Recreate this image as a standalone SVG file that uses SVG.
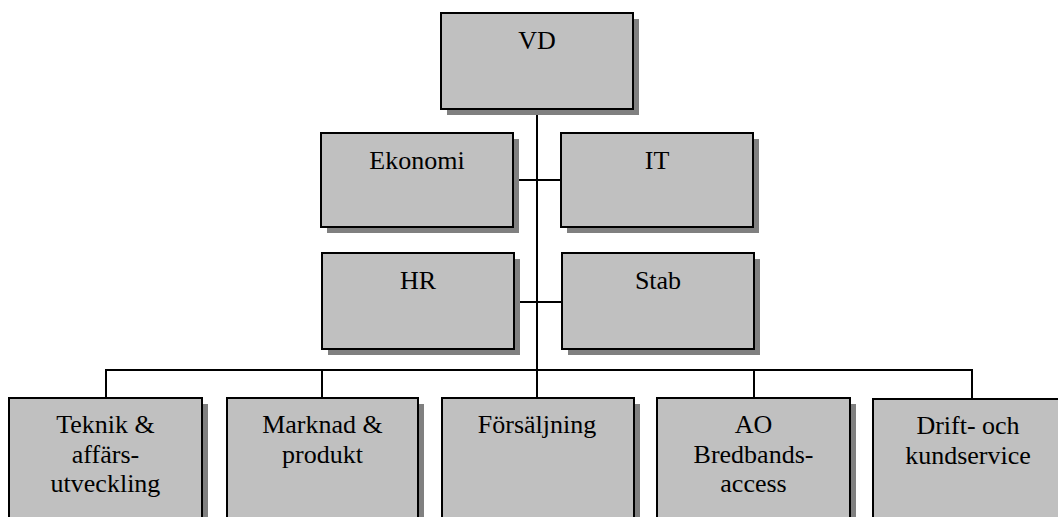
<svg xmlns="http://www.w3.org/2000/svg" width="1058" height="517" viewBox="0 0 1058 517">
  <defs>
    <style>
      .shadow { fill: #808080; }
      .box { fill: #C0C0C0; stroke: #000; stroke-width: 2; }
      .lbl { font-family: 'Liberation Serif', 'Times New Roman', 'DejaVu Serif', serif; font-size: 26px; fill: #000; text-anchor: middle; }
      .conn { stroke: #000; stroke-width: 2; fill: none; }
    </style>
  </defs>
  <rect width="1058" height="517" fill="#fff"/>
  <g id="connectors">
    <line class="conn" x1="537" y1="109" x2="537" y2="370"/>
    <line class="conn" x1="513" y1="180" x2="561" y2="180"/>
    <line class="conn" x1="514" y1="302" x2="562" y2="302"/>
    <polyline class="conn" points="106,398 106,370 972,370 972,399"/>
    <line class="conn" x1="322" y1="370" x2="322" y2="398"/>
    <line class="conn" x1="537" y1="370" x2="537" y2="398"/>
    <line class="conn" x1="754" y1="370" x2="754" y2="398"/>
  </g>
  <g id="vd">
    <rect class="shadow" x="447" y="19" width="192" height="96"/>
    <rect class="box" x="441" y="13" width="192" height="96"/>
    <text class="lbl" x="537" y="49">VD</text>
  </g>
  <g id="ekonomi">
    <rect class="shadow" x="327" y="139" width="192" height="94"/>
    <rect class="box" x="321" y="133" width="192" height="94"/>
    <text class="lbl" x="417" y="169">Ekonomi</text>
  </g>
  <g id="it">
    <rect class="shadow" x="567" y="139" width="192" height="94"/>
    <rect class="box" x="561" y="133" width="192" height="94"/>
    <text class="lbl" x="657" y="169">IT</text>
  </g>
  <g id="hr">
    <rect class="shadow" x="328" y="259" width="192" height="96"/>
    <rect class="box" x="322" y="253" width="192" height="96"/>
    <text class="lbl" x="418" y="289">HR</text>
  </g>
  <g id="stab">
    <rect class="shadow" x="568" y="259" width="192" height="96"/>
    <rect class="box" x="562" y="253" width="192" height="96"/>
    <text class="lbl" x="658" y="289">Stab</text>
  </g>
  <g id="teknik">
    <rect class="shadow" x="15" y="404" width="193" height="130"/>
    <rect class="box" x="9" y="398" width="193" height="130"/>
    <text class="lbl" x="105.5" y="433">Teknik &amp;</text>
    <text class="lbl" x="105.5" y="463">affärs-</text>
    <text class="lbl" x="105.5" y="492">utveckling</text>
  </g>
  <g id="marknad">
    <rect class="shadow" x="233" y="404" width="191" height="130"/>
    <rect class="box" x="227" y="398" width="191" height="130"/>
    <text class="lbl" x="322.5" y="433">Marknad &amp;</text>
    <text class="lbl" x="322.5" y="463">produkt</text>
  </g>
  <g id="forsaljning">
    <rect class="shadow" x="448" y="404" width="192" height="130"/>
    <rect class="box" x="442" y="398" width="192" height="130"/>
    <text class="lbl" x="537" y="433">Försäljning</text>
  </g>
  <g id="ao">
    <rect class="shadow" x="663" y="404" width="193" height="130"/>
    <rect class="box" x="657" y="398" width="193" height="130"/>
    <text class="lbl" x="753.5" y="433">AO</text>
    <text class="lbl" x="753.5" y="463">Bredbands-</text>
    <text class="lbl" x="753.5" y="492">access</text>
  </g>
  <g id="drift">
    <rect class="shadow" x="879" y="405" width="192" height="130"/>
    <rect class="box" x="873" y="399" width="192" height="130"/>
    <text class="lbl" x="968" y="434">Drift- och</text>
    <text class="lbl" x="968" y="464">kundservice</text>
  </g>
</svg>
